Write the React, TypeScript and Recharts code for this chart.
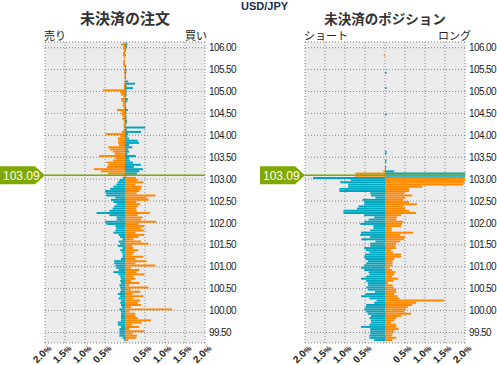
import React from 'react';
import { BarChart, Bar, XAxis, YAxis, CartesianGrid, ReferenceLine, Cell } from 'recharts';

// price buckets run top-down from 106.05 to 99.30, one every 0.05
const topBucket = 106.05;
const bucketStep = 0.05;
const currentPrice = 103.09;

const priceTicks = [99.5, 100, 100.5, 101, 101.5, 102, 102.5, 103, 103.5, 104, 104.5, 105, 105.5, 106];
const pctTicks = [-2, -1.5, -1, -0.5, 0, 0.5, 1, 1.5, 2];
const priceDomain = [99.26, 106.13];

// open orders (%), left = sell side, right = buy side
const orderSell = [
  0.1, 0.05, 0.04, 0.03, 0.05, 0.05, 0.03, 0.02, 0.05, 0.05,
  0.04, 0, 0.02, 0.03, 0, 0.02, 0, 0.02, 0.02, 0.03,
  0.03, 0.55, 0.12, 0.1, 0.04, 0.1, 0.09, 0.05, 0.06, 0.03,
  0.2, 0.08, 0.09, 0.06, 0.07, 0.03, 0.03, 0.04, 0.03, 0.04,
  0.08, 0.48, 0.12, 0.18, 0.17, 0.17, 0.15, 0.42, 0.38, 0.3,
  0.25, 0.65, 0.24, 0.3, 0.46, 0.42, 0.45, 0.78, 0.6, 0.42,
  0.03, 0.06, 0.14, 0.18, 0.22, 0.29, 0.37, 0.5, 0.48, 0.47,
  0.24, 0.35, 0.29, 0.21, 0.27, 0.31, 0.39, 0.71, 0.39, 0.21,
  0.21, 0.5, 0.47, 0.24, 0.22, 0.24, 0.29, 0.16, 0.12, 0.06,
  0.16, 0.12, 0.18, 0.06, 0.12, 0.08, 0.06, 0.06, 0.1, 0.27,
  0.27, 0.24, 0.22, 0.16, 0.29, 0.16, 0.12, 0.1, 0.12, 0.1,
  0.14, 0.12, 0.1, 0.12, 0.18, 0.12, 0.16, 0.1, 0.12, 0.1,
  0.08, 0.14, 0.1, 0.1, 0.1, 0.1, 0.1, 0.18, 0.18, 0.1,
  0.14, 0.14, 0.14, 0.14, 0.06, 0.02,
];
const orderBuy = [
  0.06, 0.05, 0.03, 0.02, 0, 0.02, 0, 0, 0, 0,
  0.03, 0.02, 0.04, 0.03, 0.02, 0.02, 0.02, 0.08, 0.25, 0.04,
  0.2, 0.04, 0.03, 0.04, 0.02, 0.07, 0.06, 0.02, 0.02, 0.03,
  0.07, 0.03, 0.02, 0.04, 0.04, 0.05, 0.04, 0.02, 0.5, 0.05,
  0.4, 0.08, 0.06, 0.1, 0.32, 0.35, 0.1, 0.18, 0.08, 0.1,
  0.06, 0.27, 0.1, 0.12, 0.2, 0.4, 0.22, 0.45, 0.36, 0.3,
  0.03, 0.28, 0.32, 0.46, 0.26, 0.42, 0.4, 0.36, 0.29, 0.76,
  0.54, 0.59, 0.28, 0.38, 0.32, 0.28, 0.29, 0.62, 0.32, 0.44,
  0.4, 0.78, 0.34, 0.48, 0.4, 0.48, 0.26, 0.48, 0.34, 0.21,
  0.4, 0.59, 0.18, 0.21, 0.33, 0.23, 0.19, 0.46, 0.26, 0.54,
  0.26, 0.76, 0.15, 0.36, 0.29, 0.48, 0.21, 0.26, 0.15, 0.36,
  0.11, 0.59, 0.15, 0.38, 0.19, 0.46, 0.21, 0.38, 0.32, 0.4,
  0.15, 1.18, 0.11, 0.26, 0.26, 0.32, 0.65, 0.42, 0.18, 0.36,
  0.11, 0.48, 0.19, 0.3, 0.28, 0.08,
];

// open positions (%), left = short, right = long
const positionShort = [
  0, 0, 0, 0, 0, 0.03, 0, 0, 0, 0,
  0, 0, 0, 0, 0, 0, 0, 0, 0, 0,
  0, 0, 0, 0, 0, 0, 0, 0, 0, 0,
  0, 0, 0, 0, 0, 0, 0, 0, 0, 0,
  0, 0, 0, 0, 0, 0, 0, 0, 0, 0,
  0, 0, 0, 0, 0, 0, 0, 0, 0.04, 0.74,
  0.74, 1.8, 0.85, 1.12, 0.92, 0.92, 1.14, 1.14, 0.37, 0.35,
  0.24, 0.56, 0.52, 0.52, 0.66, 0.7, 1.04, 1.04, 0.52, 0.27,
  0.41, 0.52, 0.62, 0.29, 0.29, 0.37, 0.6, 0.62, 0.37, 0.59,
  0.24, 0.37, 0.37, 0.52, 0.48, 0.39, 0.5, 0.52, 0.49, 0.43,
  0.47, 0.52, 0.6, 0.52, 0.41, 0.39, 0.47, 0.6, 0.47, 0.43,
  0.42, 0.47, 0.43, 0.25, 0.49, 0.6, 0.39, 0.21, 0.27, 0.47,
  0.49, 0.52, 0.47, 0.43, 0.35, 0.39, 0.35, 0.35, 0.39, 0.6,
  0.37, 0.37, 0.37, 0.39, 0.39, 0.27,
];
const positionLong = [
  0, 0, 0, 0, 0, 0, 0, 0, 0, 0,
  0, 0, 0, 0.04, 0, 0, 0, 0, 0, 0,
  0.04, 0, 0, 0, 0, 0, 0, 0, 0, 0,
  0, 0, 0.04, 0, 0, 0, 0, 0, 0, 0,
  0, 0, 0, 0, 0, 0, 0, 0, 0, 0.04,
  0.04, 0, 0, 0.04, 0.03, 0, 0.03, 0.02, 0.23, 2.3,
  2.3, 2.3, 2.3, 1.98, 1.95, 0.93, 0.6, 0.6, 0.48, 0.68,
  0.5, 0.45, 0.6, 0.8, 0.46, 0.5, 0.6, 0.78, 0.4, 0.3,
  0.28, 0.46, 0.42, 0.4, 0.16, 0.17, 0.7, 0.38, 0.5, 0.48,
  0.38, 0.28, 0.26, 0.28, 0.15, 0.2, 0.4, 0.4, 0.23, 0.19,
  0.19, 0.18, 0.11, 0.18, 0.26, 0.23, 0.18, 0.33, 0.21, 0.07,
  0.19, 0.22, 0.28, 0.28, 0.23, 0.32, 0.36, 1.48, 0.78, 0.68,
  0.57, 0.52, 0.48, 0.65, 0.4, 0.28, 0.23, 0.15, 0.28, 0.28,
  0.34, 0.23, 0.19, 0.18, 0.28, 0.18,
];

const ORANGE = '#ff8800';
const TEAL = '#00a6bf';
const GREEN = '#7fa800';
const SANS = '"Liberation Sans", Arial, sans-serif';
const CJK = '"Noto Sans CJK JP", "Noto Sans", sans-serif';

const CHART_H = 365;
const PLOT_TOP = 42;
const AXIS_H = 22;
const plotH = CHART_H - PLOT_TOP - AXIS_H;
const barSize = (plotH * bucketStep) / (priceDomain[1] - priceDomain[0]);

const buildRows = (leftVals: number[], rightVals: number[]) =>
  leftVals.map((v, i) => {
    const price = +(topBucket - i * bucketStep).toFixed(2);
    return {
      mid: price + bucketStep / 2,
      left: -v,
      right: rightVals[i],
      above: price + bucketStep > currentPrice,
    };
  });

const PctTick = ({ x, y, payload }: any) => {
  if (payload.value === 0) return null;
  const label = Math.abs(payload.value).toFixed(1);
  return (
    <text
      x={x + 2}
      y={y}
      dy="0.7em"
      transform={`rotate(-45 ${x + 2} ${y})`}
      textAnchor="end"
      fontFamily={SANS}
      fontWeight="bold"
      fontSize={10}
      fill="#222"
    >
      {label}
      <tspan fontSize={8}>%</tspan>
    </text>
  );
};

const PriceTag = (props: any) => {
  const { viewBox } = props;
  if (!viewBox) return null;
  const x = viewBox.x;
  const y = viewBox.y;
  return (
    <g>
      <path d={`M${x - 45},${y - 9} H${x - 10} L${x},${y} L${x - 10},${y + 9} H${x - 45} Z`} fill={GREEN} />
      <text x={x - 42} y={y + 4.5} fill="#fff" fontFamily={SANS} fontSize={12}>
        {currentPrice.toFixed(2)}
      </text>
    </g>
  );
};

interface PanelProps {
  left: number;
  width: number;
  yAxisWidth: number;
  sell: number[];
  buy: number[];
}

const BookPanel: React.FC<PanelProps> = ({ left, width, yAxisWidth, sell, buy }) => {
  const rows = buildRows(sell, buy);
  return (
    <div style={{ position: 'absolute', left, top: 0 }}>
      <BarChart
        width={width}
        height={CHART_H}
        data={rows}
        layout="vertical"
        stackOffset="sign"
        barCategoryGap={0}
        barGap={0}
        margin={{ top: PLOT_TOP, right: 0, bottom: 0, left: 45 }}
      >
        <CartesianGrid fill="#ebebeb" stroke="#8a8a8a" strokeDasharray="1 2" />
        <XAxis
          type="number"
          domain={[-2, 2]}
          ticks={pctTicks}
          interval={0}
          allowDataOverflow
          height={AXIS_H}
          axisLine={false}
          tickLine={false}
          tickSize={0}
          tickMargin={1}
          tick={<PctTick />}
        />
        <YAxis
          type="number"
          dataKey="mid"
          orientation="right"
          reversed
          domain={priceDomain}
          ticks={priceTicks}
          interval={0}
          allowDataOverflow
          width={yAxisWidth}
          axisLine={false}
          tickLine={false}
          tickSize={0}
          tickMargin={4}
          tickFormatter={(v: number) => v.toFixed(2)}
          tick={{ fontSize: 10, fill: '#222', fontFamily: SANS, letterSpacing: -0.6 }}
        />
        <Bar dataKey="left" stackId="book" barSize={barSize} isAnimationActive={false}>
          {rows.map((r, i) => (
            <Cell key={`l-${i}`} fill={r.above ? ORANGE : TEAL} />
          ))}
        </Bar>
        <Bar dataKey="right" stackId="book" barSize={barSize} isAnimationActive={false}>
          {rows.map((r, i) => (
            <Cell key={`r-${i}`} fill={r.above ? TEAL : ORANGE} />
          ))}
        </Bar>
        <ReferenceLine y={currentPrice} stroke={GREEN} strokeWidth={1.5} label={PriceTag} />
      </BarChart>
    </div>
  );
};

const textBase: React.CSSProperties = { position: 'absolute', color: '#222', whiteSpace: 'nowrap' };

export default function App() {
  return (
    <div style={{ position: 'absolute', left: 0, top: 0, width: 497, height: 365, background: '#fff', overflow: 'hidden' }}>
      <BookPanel left={0} width={250} yAxisWidth={45} sell={orderSell} buy={orderBuy} />
      <BookPanel left={260} width={237} yAxisWidth={32} sell={positionShort} buy={positionLong} />

      <div style={{ ...textBase, left: 241, top: 0, fontFamily: SANS, fontWeight: 'bold', fontSize: 11, lineHeight: '12px', color: '#1d2b4f' }}>
        USD/JPY
      </div>
      <div style={{ ...textBase, left: 25, width: 200, top: 8, textAlign: 'center', fontFamily: CJK, fontWeight: 'bold', fontSize: 15, lineHeight: '20px', color: '#333' }}>
        未決済の注文
      </div>
      <div style={{ ...textBase, left: 285, width: 200, top: 8, textAlign: 'center', fontFamily: CJK, fontWeight: 'bold', fontSize: 13.5, lineHeight: '20px', color: '#333' }}>
        未決済のポジション
      </div>
      <div style={{ ...textBase, left: 44, top: 28, fontFamily: CJK, fontSize: 11, lineHeight: '14px' }}>売り</div>
      <div style={{ ...textBase, left: 185, top: 28, fontFamily: CJK, fontSize: 11, lineHeight: '14px' }}>買い</div>
      <div style={{ ...textBase, left: 304, top: 28, fontFamily: CJK, fontSize: 11, lineHeight: '14px' }}>ショート</div>
      <div style={{ ...textBase, left: 438, top: 28, fontFamily: CJK, fontSize: 11, lineHeight: '14px' }}>ロング</div>
    </div>
  );
}
